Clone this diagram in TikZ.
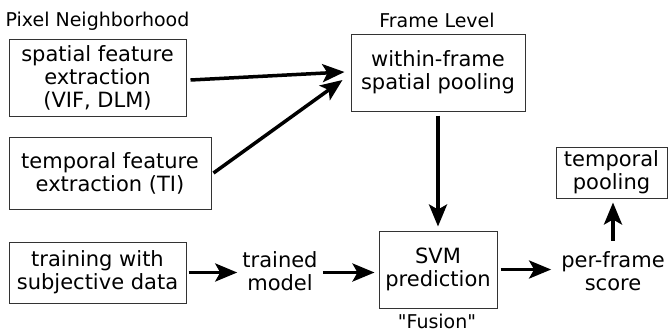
\documentclass[tikz,border=0pt]{standalone}
\usepackage{fontspec}
\setmainfont{DejaVu Sans}
\usetikzlibrary{arrows.meta,calc}
\newcommand\bxfont{\fontsize{21}{23}\selectfont}
\newcommand\lbfont{\fontsize{19}{21}\selectfont}
% plain font load, without the TeX quote mapping, for straight quotes
\font\plainlabelfont="DejaVu Sans" at 19pt
\begin{document}
\begin{tikzpicture}[x=1pt,y=-1pt,
  box/.style={draw=black!80, line width=1pt, align=center, inner sep=0pt, font=\bxfont},
  txt/.style={font=\bxfont, align=center, inner sep=0pt},
  lbl/.style={font=\lbfont, inner sep=0pt},
  flow/.style={line width=3.5pt, -{Stealth[length=22pt,width=18pt,inset=5pt]}}]
\useasboundingbox (0,0) rectangle (669,333);

% stage labels
\node[lbl] (pn) at (97.5,21) {Pixel Neighborhood};
\node[lbl] (fl) at (437,20) {Frame Level};
\node[lbl, font=\plainlabelfont] (fu) at (437,321) {"Fusion"};

% feature extraction
\node[box, minimum width=177pt, minimum height=77pt] (sp) at (97.5,78) {spatial feature\\extraction\\(VIF, DLM)};
\node[box, minimum width=202pt, minimum height=72pt] (tp) at (110,173) {temporal feature\\extraction (TI)};
\node[box, minimum width=177pt, minimum height=61pt] (tr) at (97.5,272.5) {training with\\subjective data};
\node[txt] (tm) at (280,271) {trained\\model};

% frame level and fusion
\node[box, minimum width=174pt, minimum height=77pt] (wf) at (438,72.5) {within-frame\\spatial pooling};
\node[box, minimum width=118pt, minimum height=77pt] (svm) at (438,269.5) {SVM\\prediction};
\node[txt] (pf) at (613,271) {per-frame\\score};
\node[box, minimum width=111pt, minimum height=51pt] (tpool) at (611.5,172.5) {temporal\\pooling};

% connectors
\draw[flow] ($(sp.east)+(4,2)$) -- ($(wf.west)+(-6,-0.5)$);
\draw[flow] ($(tp.east)+(2,0)$) -- ($(wf.west)+(-8,7.5)$);
\draw[flow] ($(wf.south)+(0,4)$) -- ($(svm.north)+(0,-4)$);
\draw[flow] ($(tr.east)+(2,0)$) -- ($(tm.west |- tr.east)+(-5,0)$);
\draw[flow] ($(tm.east |- tr.east)+(5,0)$) -- ($(svm.west |- tr.east)+(-4,0)$);
\draw[flow] ($(svm.east)+(3,0)$) -- ($(pf.west |- svm.east)+(-10,0)$);
\draw[flow] ($(tpool.south -| pf.north)+(0,42)$) -- ($(tpool.south -| pf.north)+(0,4)$);
\end{tikzpicture}
\end{document}
